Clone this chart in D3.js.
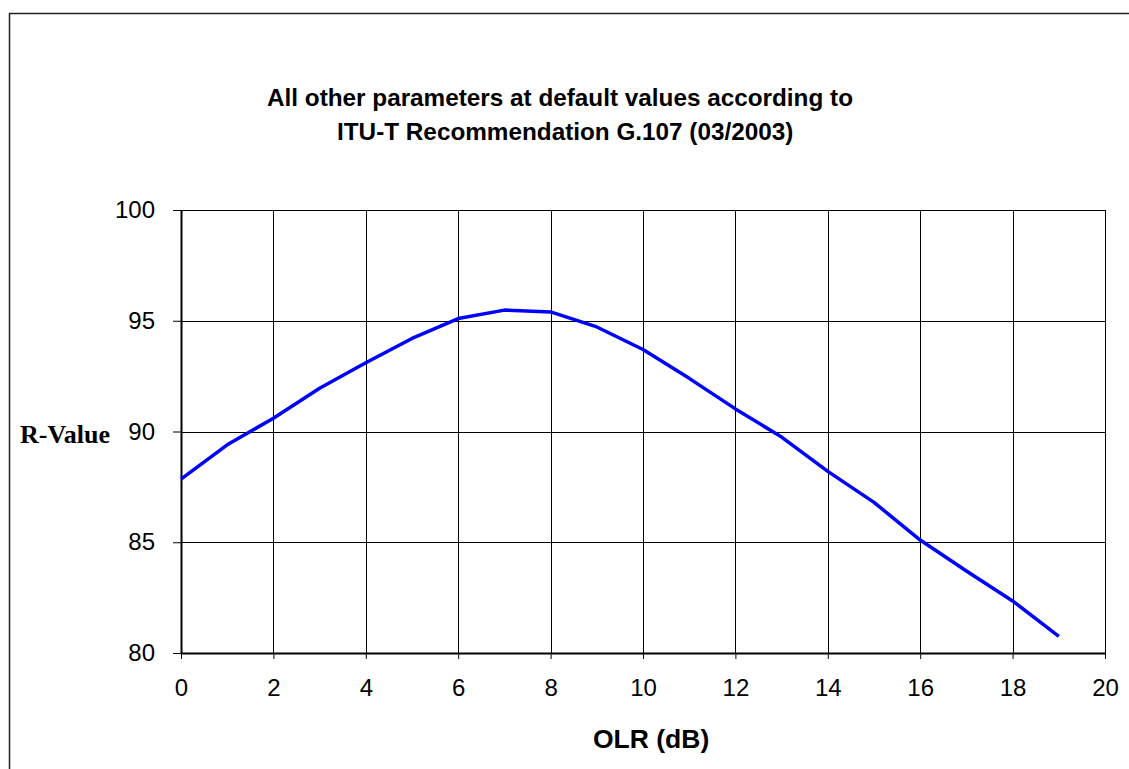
<!DOCTYPE html>
<html>
<head>
<meta charset="utf-8">
<script src="https://cdn.jsdelivr.net/npm/d3@7"></script>
<style>
  body { margin: 0; background: #fff; }
  svg { display: block; }
</style>
</head>
<body>
<div id="chart"></div>
<script>
// data
const olr = [0, 1, 2, 3, 4, 5, 6, 7, 8, 9, 10, 11, 12, 13, 14, 15, 16, 17, 18, 19];
const rValue = [87.85, 89.4, 90.6, 91.95, 93.1, 94.2, 95.1, 95.48, 95.4, 94.72,
                93.7, 92.4, 91.02, 89.75, 88.2, 86.8, 85.1, 83.7, 82.35, 80.75];
const xTicks = [0, 2, 4, 6, 8, 10, 12, 14, 16, 18, 20];
const yTicks = [80, 85, 90, 95, 100];
const titleLines = ["All other parameters at default values according to",
                    "ITU-T Recommendation G.107 (03/2003)"];

const W = 1129, H = 769;
const margin = {top: 210, right: 24, bottom: 116, left: 181},
    width = W - margin.left - margin.right,
    height = H - margin.top - margin.bottom;

const svg = d3.select("#chart")
    .append("svg")
    .attr("width", W)
    .attr("height", H);

// outer frame (runs off the right/bottom of the picture)
svg.append("rect")
    .attr("x", 9.5).attr("y", 13.5)
    .attr("width", W + 20).attr("height", H + 20)
    .attr("fill", "none")
    .attr("stroke", "#222")
    .attr("stroke-width", 1.5);

// title
const titleX = [267, 337];
svg.selectAll(".title")
    .data(titleLines)
    .join("text")
    .attr("class", "title")
    .attr("x", (d, i) => titleX[i])
    .attr("y", (d, i) => 106 + i * 34)
    .style("font-family", "Liberation Sans, Arial, sans-serif")
    .style("font-weight", "bold")
    .style("font-size", "24.3px")
    .text(d => d);

const g = svg.append("g")
    .attr("transform", `translate(${margin.left},${margin.top})`);

const x = d3.scaleLinear().domain([0, 20]).range([0, width]);
const y = d3.scaleLinear().domain([80, 100]).range([height, 0]);

// grid
g.append("g")
    .selectAll("line")
    .data(xTicks)
    .join("line")
    .attr("x1", d => Math.round(x(d)) + 0.5)
    .attr("x2", d => Math.round(x(d)) + 0.5)
    .attr("y1", 0)
    .attr("y2", height)
    .attr("stroke", "#000")
    .attr("stroke-width", 1);

g.append("g")
    .selectAll("line")
    .data(yTicks)
    .join("line")
    .attr("x1", 0)
    .attr("x2", width)
    .attr("y1", d => Math.round(y(d)) + 0.5)
    .attr("y2", d => Math.round(y(d)) + 0.5)
    .attr("stroke", "#000")
    .attr("stroke-width", 1);

// axes
const xAxis = g.append("g")
    .attr("transform", `translate(0,${height})`)
    .call(d3.axisBottom(x).tickValues(xTicks).tickSize(6).tickPadding(20).tickSizeOuter(0));
const yAxis = g.append("g")
    .call(d3.axisLeft(y).tickValues(yTicks).tickSize(8).tickPadding(18).tickSizeOuter(0));

[xAxis, yAxis].forEach(a => {
    a.select(".domain").attr("stroke", "#000").attr("stroke-width", 2);
    a.selectAll(".tick line").attr("stroke", "#000");
    a.selectAll(".tick text")
        .style("font-family", "Liberation Sans, Arial, sans-serif")
        .style("font-size", "24px")
        .attr("fill", "#000");
});

// line
g.append("path")
    .datum(olr.map((d, i) => [d, rValue[i]]))
    .attr("fill", "none")
    .attr("stroke", "#0000ff")
    .attr("stroke-width", 3.5)
    .attr("stroke-linejoin", "round")
    .attr("d", d3.line()
        .x(d => x(d[0]))
        .y(d => y(d[1])));

// axis titles
svg.append("text")
    .attr("x", 20)
    .attr("y", 443)
    .style("font-family", "Liberation Serif, Times New Roman, serif")
    .style("font-weight", "bold")
    .style("font-size", "26px")
    .text("R-Value");

svg.append("text")
    .attr("x", 593)
    .attr("y", 748)
    .style("font-family", "Liberation Sans, Arial, sans-serif")
    .style("font-weight", "bold")
    .style("font-size", "26.5px")
    .text("OLR (dB)");
</script>
</body>
</html>
